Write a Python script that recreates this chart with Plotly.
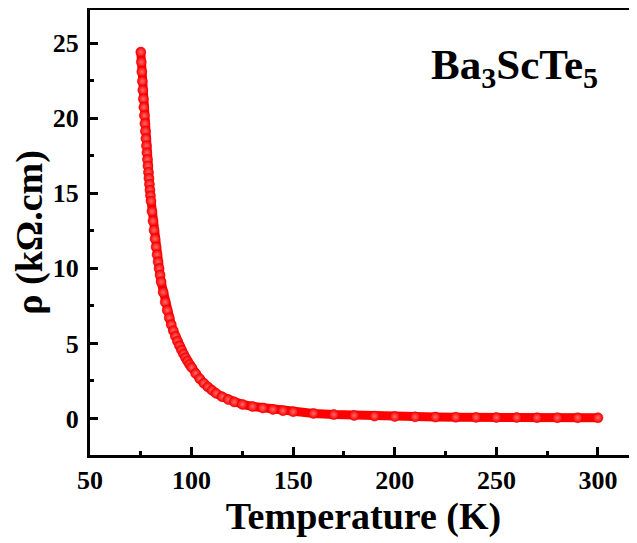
import plotly.graph_objects as go

# Temperature (K) and resistivity (kOhm.cm)
temperature_K = [
    75.0, 75.25, 75.5, 75.75, 76.0, 76.25, 76.5, 76.75, 77.0, 77.25,
    77.5, 77.75, 78.0, 78.25, 78.5, 78.75, 79.0, 79.25, 79.5, 79.75,
    80.0, 80.5, 81.0, 81.5, 82.0, 82.5, 83.0, 83.5, 84.0, 84.5,
    85.0, 86.0, 87.0, 88.0, 89.0, 90.0, 91.0, 92.0, 93.0, 94.0,
    95.0, 96.0, 97.0, 98.0, 99.0, 100.0, 102.0, 104.0, 106.0, 108.0,
    110.0, 112.0, 115.0, 118.0, 121.0, 125.0, 130.0, 135.0, 140.0, 145.0,
    150.0, 160.0, 170.0, 180.0, 190.0, 200.0, 210.0, 220.0, 230.0, 240.0,
    250.0, 260.0, 270.0, 280.0, 290.0, 300.0,
]
resistivity_kohm_cm = [
    24.40, 23.73, 23.09, 22.46, 21.86, 21.28, 20.72, 20.17, 19.64, 19.13,
    18.64, 18.16, 17.70, 17.25, 16.82, 16.40, 15.99, 15.60, 15.21, 14.84,
    14.48, 13.79, 13.15, 12.54, 11.97, 11.42, 10.91, 10.43, 9.98, 9.55,
    9.10, 8.40, 7.75, 7.20, 6.70, 6.25, 5.85, 5.48, 5.15, 4.84,
    4.56, 4.30, 4.05, 3.82, 3.60, 3.40, 3.00, 2.65, 2.35, 2.10,
    1.88, 1.68, 1.45, 1.26, 1.10, 0.94, 0.80, 0.70, 0.60, 0.52,
    0.45, 0.34, 0.26, 0.20, 0.16, 0.13, 0.11, 0.095, 0.085, 0.075,
    0.068, 0.062, 0.057, 0.053, 0.050, 0.047,
]

x_ticks = [50, 100, 150, 200, 250, 300]
y_ticks = [0, 5, 10, 15, 20, 25]

FONT = "Liberation Serif"

fig = go.Figure()
fig.add_trace(go.Scatter(
    x=temperature_K,
    y=resistivity_kohm_cm,
    mode="lines+markers",
    line=dict(color="#ff0000", width=9),
    marker=dict(
        size=10,
        color="#ff0000",
        line=dict(color="#e00000", width=0.5),
        gradient=dict(type="radial", color="#ff6a6a"),
    ),
    showlegend=False,
))

axis_common = dict(
    showline=True,
    linecolor="black",
    linewidth=3,
    ticks="inside",
    ticklen=8,
    tickwidth=2.5,
    tickcolor="black",
    showgrid=False,
    zeroline=False,
    tickfont=dict(family=FONT, size=26, color="black", weight="bold"),
)

fig.update_xaxes(
    **axis_common,
    range=[50, 319.2],
    tickvals=x_ticks,
    ticktext=[str(v) for v in x_ticks],
    minor=dict(ticks="inside", ticklen=4, tickwidth=2.5, tickcolor="black", dtick=25),
    mirror=True,
    ticklabelstandoff=0,
    title=dict(text="Temperature (K)", standoff=3,
               font=dict(family=FONT, size=38, color="black", weight="bold")),
)
fig.update_yaxes(
    **axis_common,
    range=[-2.43, 27.2],
    tickvals=y_ticks,
    ticktext=[str(v) for v in y_ticks],
    minor=dict(ticks="inside", ticklen=4, tickwidth=2.5, tickcolor="black", dtick=2.5),
    mirror=False,
    ticklabelstandoff=3,
    title=dict(text="ρ (kΩ.cm)", standoff=6,
               font=dict(family=FONT, size=38, color="black", weight="bold")),
)

fig.add_annotation(
    text="Ba<sub>3</sub>ScTe<sub>5</sub>",
    xref="paper", yref="paper",
    x=0.62, y=0.87,
    xanchor="left", yanchor="middle",
    showarrow=False,
    font=dict(family=FONT, size=43, color="black", weight="bold"),
)

fig.update_layout(
    width=629, height=535,
    margin=dict(l=82, r=0, t=2, b=88, autoexpand=False),
    paper_bgcolor="white",
    plot_bgcolor="white",
)

fig.write_html("out.html")
